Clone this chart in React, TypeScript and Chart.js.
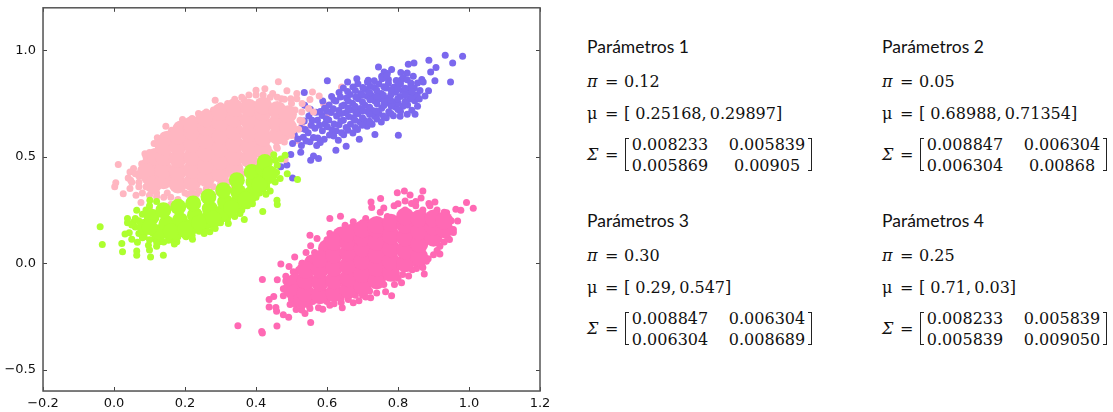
import React, { useEffect, useRef } from "react";
import { Chart, registerables } from "chart.js";

Chart.register(...registerables);

type P = [number, number];

const xTicks = [-0.2, 0, 0.2, 0.4, 0.6, 0.8, 1.0, 1.2];
const yTicks = [-0.5, 0, 0.5, 1.0];

const greenDense: P[] = [[0.087,0.171],[0.106,0.218],[0.13,0.147],[0.148,0.187],[0.139,0.249],[0.172,0.147],[0.186,0.202],[0.181,0.265],[0.219,0.171],[0.228,0.226],[0.223,0.281],[0.261,0.202],[0.27,0.257],[0.266,0.312],[0.303,0.234],[0.313,0.288],[0.308,0.343],[0.346,0.281],[0.35,0.335],[0.346,0.39],[0.388,0.327],[0.393,0.382],[0.388,0.429],[0.416,0.39],[0.421,0.445],[0.425,0.476],[0.1,0.17],[0.16,0.15],[0.2,0.16],[0.24,0.19],[0.28,0.21],[0.33,0.26],[0.37,0.3],[0.41,0.37],[0.44,0.42]];
const greenOuter: P[] = [[-0.039,0.171],[-0.033,0.088],[0.022,0.093],[0.024,0.054],[0.064,0.058],[0.064,0.038],[0.103,0.03],[0.139,0.038],[0.031,0.137],[0.043,0.143],[0.05,0.113],[0.066,0.099],[0.097,0.085],[0.1,0.062],[0.12,0.08],[0.129,0.101],[0.153,0.108],[0.177,0.101],[0.17,0.09],[0.203,0.124],[0.221,0.113],[0.254,0.14],[0.27,0.148],[0.285,0.163],[0.322,0.187],[0.294,0.19],[0.367,0.205],[0.355,0.234],[0.376,0.27],[0.419,0.243],[0.459,0.296],[0.46,0.276],[0.428,0.324],[0.402,0.327],[0.454,0.382],[0.468,0.398],[0.517,0.393],[0.488,0.421],[0.458,0.426],[0.43,0.375],[0.482,0.507],[0.454,0.484],[0.425,0.414],[0.038,0.21],[0.038,0.19],[0.064,0.249],[0.055,0.194],[0.101,0.296],[0.076,0.165],[0.085,0.125],[0.115,0.115],[0.21,0.14],[0.245,0.165],[0.3,0.2],[0.335,0.23],[0.39,0.28],[0.44,0.34],[0.45,0.43],
[0.07,0.14],[0.08,0.12],[0.09,0.15],[0.1,0.11],[0.11,0.14],[0.12,0.1],[0.13,0.12],[0.14,0.1],[0.15,0.13],[0.16,0.11],[0.17,0.12],[0.18,0.125],[0.19,0.14],[0.2,0.13],[0.21,0.15],[0.22,0.13],[0.23,0.16],[0.24,0.15],[0.25,0.17],[0.26,0.16],[0.27,0.18],[0.28,0.17],[0.29,0.2],[0.3,0.19],[0.31,0.21],[0.32,0.21],[0.33,0.23],[0.34,0.22],[0.35,0.25],[0.36,0.25],[0.37,0.27],[0.38,0.29],[0.39,0.3],[0.4,0.31],[0.41,0.33],[0.42,0.35],[0.43,0.36],[0.44,0.39],[0.07,0.2],[0.06,0.17],[0.05,0.18],[0.08,0.23],[0.09,0.25],[0.06,0.21],[0.1,0.27],[0.12,0.29],[0.44,0.44],[0.46,0.46],[0.47,0.49],[0.45,0.51]];

const hotDense: P[] = [[0.5,-0.12],[0.51,-0.09],[0.51,-0.14],[0.53,-0.17],[0.56,0],[0.6,0.07],[0.64,0.13],[0.54,-0.14],[0.54,-0.08],[0.54,-0.03],[0.58,-0.15],[0.58,-0.09],[0.58,-0.03],[0.58,0.02],[0.62,-0.14],[0.62,-0.08],[0.62,-0.02],[0.62,0.04],[0.62,0.1],[0.66,-0.125],[0.66,-0.07],[0.66,-0.01],[0.66,0.05],[0.66,0.1],[0.66,0.14],[0.7,-0.11],[0.7,-0.05],[0.7,0.01],[0.7,0.07],[0.7,0.12],[0.7,0.16],[0.74,-0.08],[0.74,-0.02],[0.74,0.04],[0.74,0.1],[0.74,0.16],[0.74,0.18],[0.78,-0.045],[0.78,0.01],[0.78,0.07],[0.78,0.13],[0.78,0.19],[0.82,0],[0.82,0.06],[0.82,0.12],[0.82,0.18],[0.82,0.22],[0.86,0.03],[0.86,0.09],[0.86,0.15],[0.86,0.21],[0.9,0.12],[0.9,0.17],[0.9,0.21],[0.93,0.16],[0.93,0.2]];
const hotOuter: P[] = [[0.349,-0.294],[0.416,-0.32],[0.418,-0.328],[0.459,-0.295],[0.554,-0.278],[0.492,-0.253],[0.477,-0.242],[0.437,-0.205],[0.456,-0.208],[0.458,-0.225],[0.437,-0.17],[0.45,-0.156],[0.418,-0.076],[0.46,-0.078],[0.47,-0.003],[0.493,-0.015],[0.509,0.03],[0.541,0.051],[0.554,0.082],[0.552,0.132],[0.572,0.116],[0.608,0.21],[0.638,0.221],[0.608,0.14],[0.651,0.179],[0.674,0.195],[0.709,0.21],[0.724,0.288],[0.751,0.304],[0.798,0.331],[0.818,0.34],[0.87,0.34],[0.834,0.321],[0.82,0.293],[0.865,0.307],[0.726,0.262],[0.789,0.27],[0.904,0.288],[0.838,0.281],[0.887,0.281],[0.993,0.285],[1.012,0.259],[0.963,0.254],[0.977,0.249],[0.937,0.237],[0.968,0.198],[0.956,0.159],[0.956,0.144],[0.945,0.112],[0.918,0.08],[0.918,0.043],[0.885,0.021],[0.874,-0.051],[0.867,-0.012],[0.852,-0.024],[0.813,-0.053],[0.81,-0.092],[0.782,-0.153],[0.765,-0.134],[0.723,-0.162],[0.709,-0.158],[0.69,-0.176],[0.674,-0.186],[0.643,-0.209],[0.64,-0.184],[0.608,-0.197],[0.588,-0.216],[0.576,-0.209],[0.552,-0.212],[0.538,-0.236],[0.529,-0.22],[0.513,-0.217],[0.496,-0.194],[0.477,-0.153],[0.477,-0.12],[0.484,-0.083],[0.484,-0.061],[0.51,-0.05],[0.53,0],[0.565,0.05],[0.6,0.11],[0.75,0.24],[0.85,0.27],[0.93,0.24],[0.7,-0.15],[0.6,-0.17],[0.5,-0.17],[0.85,0],
[0.52,-0.1],[0.52,-0.16],[0.56,-0.18],[0.6,-0.18],[0.64,-0.165],[0.68,-0.15],[0.72,-0.13],[0.76,-0.1],[0.8,-0.07],[0.84,-0.03],[0.88,0.01],[0.91,0.06],[0.94,0.12],[0.95,0.2],[0.53,0],[0.57,0.04],[0.6,0.09],[0.63,0.13],[0.67,0.17],[0.72,0.19],[0.77,0.22],[0.82,0.25],[0.87,0.25],[0.91,0.25],[0.505,-0.04],[0.52,-0.03],[0.5,-0.08],[0.55,0.02],[0.59,0.07],[0.65,0.16],[0.7,0.19],[0.76,0.26],[0.8,0.28],[0.85,0.29],[0.89,0.27],[0.92,0.2],[0.93,0.1],[0.9,0.04],[0.87,-0.02],[0.83,-0.06],[0.79,-0.1],[0.74,-0.14],[0.66,-0.17],[0.62,-0.19],[0.55,-0.2],[0.5,-0.15],[0.51,-0.19]];

const lightDense: P[] = [[0.1,0.41],[0.1,0.46],[0.09,0.43],[0.11,0.37],[0.12,0.5],[0.15,0.58],[0.19,0.63],[0.14,0.39],[0.14,0.44],[0.14,0.5],[0.14,0.55],[0.18,0.37],[0.18,0.43],[0.18,0.49],[0.18,0.55],[0.18,0.6],[0.22,0.38],[0.22,0.44],[0.22,0.5],[0.22,0.56],[0.22,0.62],[0.22,0.65],[0.26,0.4],[0.26,0.46],[0.26,0.52],[0.26,0.58],[0.26,0.64],[0.26,0.68],[0.3,0.42],[0.3,0.48],[0.3,0.54],[0.3,0.6],[0.3,0.66],[0.3,0.71],[0.34,0.44],[0.34,0.5],[0.34,0.56],[0.34,0.62],[0.34,0.68],[0.34,0.73],[0.38,0.49],[0.38,0.55],[0.38,0.61],[0.38,0.67],[0.38,0.73],[0.42,0.53],[0.42,0.59],[0.42,0.65],[0.42,0.71],[0.42,0.74],[0.46,0.6],[0.46,0.66],[0.46,0.72],[0.49,0.64],[0.49,0.7]];
const lightOuter: P[] = [[0.463,0.853],[0.285,0.766],[0.4,0.813],[0.425,0.82],[0.487,0.81],[0.515,0.797],[0.559,0.805],[0.578,0.786],[0.552,0.769],[0.447,0.797],[0.472,0.773],[0.498,0.773],[0.366,0.769],[0.333,0.755],[0.306,0.727],[0.285,0.716],[0.238,0.703],[0.256,0.695],[0.193,0.675],[0.228,0.664],[0.146,0.644],[0.184,0.628],[0.162,0.625],[0.122,0.59],[0.113,0.562],[0.148,0.586],[0.087,0.515],[0.111,0.523],[0.078,0.468],[0.012,0.464],[0.055,0.445],[0.045,0.429],[0.047,0.39],[0.005,0.378],[0.002,0.359],[0.045,0.351],[0.026,0.327],[0.062,0.32],[0.076,0.285],[0.1,0.26],[0.16,0.276],[0.12,0.312],[0.209,0.324],[0.233,0.327],[0.295,0.335],[0.334,0.346],[0.266,0.367],[0.313,0.398],[0.357,0.406],[0.378,0.424],[0.423,0.434],[0.402,0.46],[0.44,0.507],[0.482,0.487],[0.458,0.547],[0.486,0.594],[0.529,0.711],[0.548,0.727],[0.562,0.711],[0.515,0.773],[0.524,0.672],[0.505,0.625],[0.07,0.41],[0.09,0.36],[0.05,0.38],[0.11,0.34],[0.15,0.33],[0.51,0.72],[0.53,0.75],
[0.1,0.52],[0.12,0.56],[0.14,0.6],[0.16,0.6],[0.18,0.64],[0.2,0.65],[0.22,0.68],[0.24,0.69],[0.26,0.71],[0.28,0.72],[0.3,0.74],[0.32,0.75],[0.34,0.77],[0.36,0.78],[0.38,0.79],[0.4,0.79],[0.42,0.79],[0.44,0.78],[0.46,0.78],[0.48,0.77],[0.5,0.75],[0.08,0.33],[0.1,0.32],[0.12,0.33],[0.14,0.31],[0.16,0.31],[0.18,0.3],[0.2,0.33],[0.22,0.33],[0.24,0.34],[0.26,0.35],[0.28,0.36],[0.3,0.37],[0.32,0.38],[0.34,0.4],[0.36,0.42],[0.38,0.44],[0.4,0.47],[0.42,0.49],[0.44,0.52],[0.46,0.54],[0.48,0.57],[0.5,0.6],[0.52,0.63],[0.53,0.67],[0.07,0.38],[0.06,0.42],[0.08,0.45],[0.07,0.36],[0.04,0.4],[0.09,0.5]];

const purplePoints: P[] = [[0.933,0.977],[0.982,0.972],[0.887,0.954],[0.954,0.941],[0.845,0.941],[0.829,0.935],[0.907,0.919],[0.745,0.922],[0.782,0.91],[0.892,0.899],[0.904,0.857],[0.948,0.852],[0.808,0.896],[0.826,0.894],[0.761,0.899],[0.754,0.878],[0.77,0.891],[0.843,0.878],[0.867,0.863],[0.871,0.852],[0.601,0.857],[0.684,0.867],[0.658,0.852],[0.716,0.86],[0.733,0.857],[0.721,0.831],[0.773,0.863],[0.81,0.863],[0.836,0.847],[0.886,0.81],[0.876,0.786],[0.855,0.737],[0.839,0.719],[0.826,0.7],[0.848,0.7],[0.806,0.691],[0.801,0.601],[0.735,0.605],[0.691,0.583],[0.654,0.55],[0.625,0.531],[0.576,0.492],[0.554,0.484],[0.562,0.504],[0.526,0.522],[0.498,0.511],[0.487,0.461],[0.47,0.453],[0.503,0.401],[0.536,0.802],[0.537,0.742],
[0.503,0.562],[0.508,0.604],[0.528,0.553],[0.533,0.592],[0.527,0.633],[0.536,0.668],[0.552,0.571],[0.547,0.613],[0.556,0.648],[0.549,0.692],[0.553,0.723],[0.571,0.553],[0.574,0.588],[0.566,0.634],[0.573,0.672],[0.569,0.709],[0.592,0.583],[0.587,0.622],[0.594,0.654],[0.586,0.694],[0.593,0.728],[0.588,0.762],[0.607,0.603],[0.614,0.627],[0.605,0.673],[0.612,0.708],[0.606,0.743],[0.613,0.783],[0.632,0.578],[0.626,0.622],[0.634,0.651],[0.627,0.692],[0.633,0.718],[0.625,0.762],[0.634,0.802],[0.647,0.604],[0.654,0.638],[0.646,0.672],[0.653,0.707],[0.648,0.743],[0.655,0.776],[0.646,0.823],[0.673,0.612],[0.666,0.653],[0.674,0.684],[0.667,0.721],[0.672,0.752],[0.665,0.793],[0.673,0.828],[0.686,0.628],[0.693,0.663],[0.687,0.702],[0.694,0.727],[0.688,0.773],[0.695,0.797],[0.687,0.843],[0.713,0.644],[0.706,0.671],[0.714,0.713],[0.707,0.742],[0.713,0.784],[0.708,0.816],[0.714,0.852],[0.727,0.653],[0.734,0.692],[0.728,0.718],[0.735,0.762],[0.726,0.788],[0.733,0.826],[0.753,0.664],[0.746,0.703],[0.754,0.728],[0.747,0.773],[0.753,0.797],[0.746,0.842],[0.755,0.867],[0.767,0.683],[0.774,0.712],[0.768,0.753],[0.775,0.778],[0.766,0.823],[0.773,0.846],[0.768,0.882],[0.787,0.693],[0.794,0.733],[0.786,0.758],[0.793,0.803],[0.788,0.827],[0.795,0.858],[0.807,0.713],[0.814,0.737],[0.806,0.783],[0.813,0.812],[0.807,0.843],[0.815,0.872],[0.827,0.743],[0.834,0.772],[0.828,0.803],[0.835,0.827],[0.826,0.862],[0.847,0.763],[0.854,0.792],[0.846,0.823],[0.855,0.847],
[0.518,0.584],[0.541,0.574],[0.539,0.628],[0.562,0.591],[0.558,0.672],[0.581,0.567],[0.579,0.648],[0.581,0.713],[0.601,0.641],[0.598,0.679],[0.6,0.714],[0.619,0.598],[0.62,0.654],[0.618,0.726],[0.62,0.766],[0.641,0.613],[0.639,0.669],[0.64,0.703],[0.642,0.739],[0.638,0.781],[0.659,0.625],[0.661,0.689],[0.66,0.728],[0.66,0.762],[0.658,0.807],[0.68,0.638],[0.679,0.672],[0.681,0.71],[0.679,0.737],[0.681,0.781],[0.68,0.812],[0.699,0.648],[0.7,0.684],[0.701,0.716],[0.7,0.758],[0.699,0.789],[0.701,0.826],[0.72,0.667],[0.72,0.699],[0.72,0.733],[0.721,0.768],[0.72,0.802],[0.74,0.678],[0.739,0.715],[0.741,0.749],[0.74,0.784],[0.74,0.813],[0.759,0.692],[0.76,0.741],[0.761,0.762],[0.759,0.789],[0.76,0.829],[0.78,0.703],[0.781,0.738],[0.779,0.767],[0.78,0.792],[0.78,0.815],[0.8,0.722],[0.801,0.752],[0.799,0.773],[0.8,0.817],[0.8,0.848],[0.82,0.76],[0.821,0.788],[0.82,0.822],[0.84,0.781],[0.84,0.806],[0.86,0.772],[0.862,0.812]];

const lightOnTop: P[] = [[0.641,0.828],[0.59,0.75],[0.597,0.691],[0.554,0.648],[0.529,0.645],[0.516,0.575],[0.599,0.7]];

const panels = [
  { title: "Parámetros 1", pi: "0.12", mu: "[ 0.25168,\u20090.29897]", m: [["0.008233", "0.005839"], ["0.005869", "0.00905"]], left: 587, top: 0 },
  { title: "Parámetros 2", pi: "0.05", mu: "[ 0.68988,\u20090.71354]", m: [["0.008847", "0.006304"], ["0.006304", "0.00868"]], left: 882, top: 0 },
  { title: "Parámetros 3", pi: "0.30", mu: "[ 0.29,\u20090.547]", m: [["0.008847", "0.006304"], ["0.006304", "0.008689"]], left: 587, top: 174 },
  { title: "Parámetros 4", pi: "0.25", mu: "[ 0.71,\u20090.03]", m: [["0.008233", "0.005839"], ["0.005839", "0.009050"]], left: 882, top: 174 },
];

const pts = (a: P[]) => a.map(([x, y]) => ({ x, y }));
const mathFont = '"DejaVu Serif", serif';

function Txt(props: { x: number; y: number; s: any; center?: boolean; italic?: boolean; font?: string; size?: number }) {
  const { x, y, s, center, italic, font = mathFont, size = 16 } = props;
  return (
    <span
      style={{
        position: "absolute", left: x, top: y, lineHeight: "20px", whiteSpace: "pre", color: "#111",
        fontFamily: font, fontSize: size, fontStyle: italic ? "italic" : "normal",
        transform: center ? "translateX(-50%)" : undefined,
      }}
    >
      {s}
    </span>
  );
}

function Bracket(props: { x: number; y: number; right?: boolean }) {
  const { x, y, right } = props;
  const side = right ? "borderRight" : "borderLeft";
  return (
    <div
      style={{
        position: "absolute", left: x, top: y, width: 4, height: 33, boxSizing: "border-box",
        borderTop: "1px solid #222", borderBottom: "1px solid #222", [side]: "1.4px solid #222",
      }}
    />
  );
}

function Panel({ p }: { p: (typeof panels)[number] }) {
  const { left: l, top: t } = p;
  return (
    <>
      <Txt x={l} y={t + 37} s={p.title} font="Lato, sans-serif" size={17.5} />
      <Txt x={l} y={t + 72} s="π" italic />
      <Txt x={l + 18} y={t + 72} s="=" />
      <Txt x={l + 37} y={t + 72} s={p.pi} />
      <Txt x={l} y={t + 104} s="μ" />
      <Txt x={l + 18} y={t + 104} s="=" />
      <Txt x={l + 37} y={t + 104} s={p.mu} />
      <Txt x={l} y={t + 145} s="Σ" italic />
      <Txt x={l + 18} y={t + 145} s="=" />
      <Bracket x={l + 38} y={t + 138} />
      <Txt x={l + 83} y={t + 135} s={p.m[0][0]} center />
      <Txt x={l + 180} y={t + 135} s={p.m[0][1]} center />
      <Txt x={l + 83} y={t + 156} s={p.m[1][0]} center />
      <Txt x={l + 180} y={t + 156} s={p.m[1][1]} center />
      <Bracket x={l + 221} y={t + 138} right />
    </>
  );
}

const ds = (data: P[], color: string, r: number) => ({
  data: pts(data), backgroundColor: color, borderWidth: 0, pointRadius: r, pointHoverRadius: r,
});

const inwardTicks = {
  id: "inwardTicks",
  afterDraw(c: any) {
    const { ctx, chartArea: a, scales } = c;
    ctx.save();
    ctx.strokeStyle = "#444";
    ctx.lineWidth = 1;
    ctx.beginPath();
    xTicks.forEach((v) => {
      const px = Math.round(scales.x.getPixelForValue(v)) + 0.5;
      ctx.moveTo(px, a.bottom); ctx.lineTo(px, a.bottom - 4);
      ctx.moveTo(px, a.top); ctx.lineTo(px, a.top + 4);
    });
    yTicks.forEach((v) => {
      const py = Math.round(scales.y.getPixelForValue(v)) + 0.5;
      ctx.moveTo(a.left, py); ctx.lineTo(a.left + 4, py);
      ctx.moveTo(a.right, py); ctx.lineTo(a.right - 4, py);
    });
    ctx.stroke();
    ctx.strokeStyle = "#555";
    ctx.lineWidth = 1.5;
    ctx.strokeRect(a.left, a.top, a.right - a.left, a.bottom - a.top);
    ctx.restore();
  },
};

const fmt = (v: any) => Number(v).toFixed(1).replace("-", "\u2212");

export default function App() {
  const ref = useRef<HTMLCanvasElement>(null);
  useEffect(() => {
    const chart = new Chart(ref.current!, {
      type: "scatter",
      plugins: [inwardTicks],
      data: {
        datasets: [
          ds(greenDense, "#ADFF2F", 8), ds(greenOuter, "#ADFF2F", 3.5),
          ds(hotDense, "#FF69B4", 9), ds(hotOuter, "#FF69B4", 3.5),
          ds(lightDense, "#FFB6C1", 9), ds(lightOuter, "#FFB6C1", 3.5),
          ds(purplePoints, "#7B68EE", 3.5), ds(lightOnTop, "#FFB6C1", 3.5),
        ] as any,
      },
      options: {
        animation: false, responsive: false,
        layout: { padding: { top: 0, right: 20, left: 0, bottom: 0 } },
        plugins: { legend: { display: false }, tooltip: { enabled: false } },
        scales: {
          x: {
            type: "linear", min: -0.2, max: 1.2,
            afterBuildTicks: (s: any) => { s.ticks = xTicks.map((value) => ({ value })); },
            afterFit: (s: any) => { s.height = 21; },
            grid: { display: false, drawTicks: false },
            ticks: { callback: fmt, autoSkip: false, maxRotation: 0, color: "#111", padding: 5, font: { family: "DejaVu Sans", size: 13 } },
          },
          y: {
            type: "linear", min: -0.6, max: 1.2,
            afterBuildTicks: (s: any) => { s.ticks = yTicks.map((value) => ({ value })); },
            afterFit: (s: any) => { s.width = 43; },
            grid: { display: false, drawTicks: false },
            ticks: { callback: fmt, autoSkip: false, color: "#111", padding: 7, font: { family: "DejaVu Sans", size: 13 } },
          },
        },
      },
    });
    return () => chart.destroy();
  }, []);
  return (
    <div style={{ position: "absolute", left: 0, top: 0, width: 1113, height: 412, overflow: "hidden", background: "#fff" }}>
      <canvas ref={ref} width={560} height={419} style={{ position: "absolute", left: 0, top: -7 }} />
      {panels.map((p) => <Panel key={p.title} p={p} />)}
    </div>
  );
}
